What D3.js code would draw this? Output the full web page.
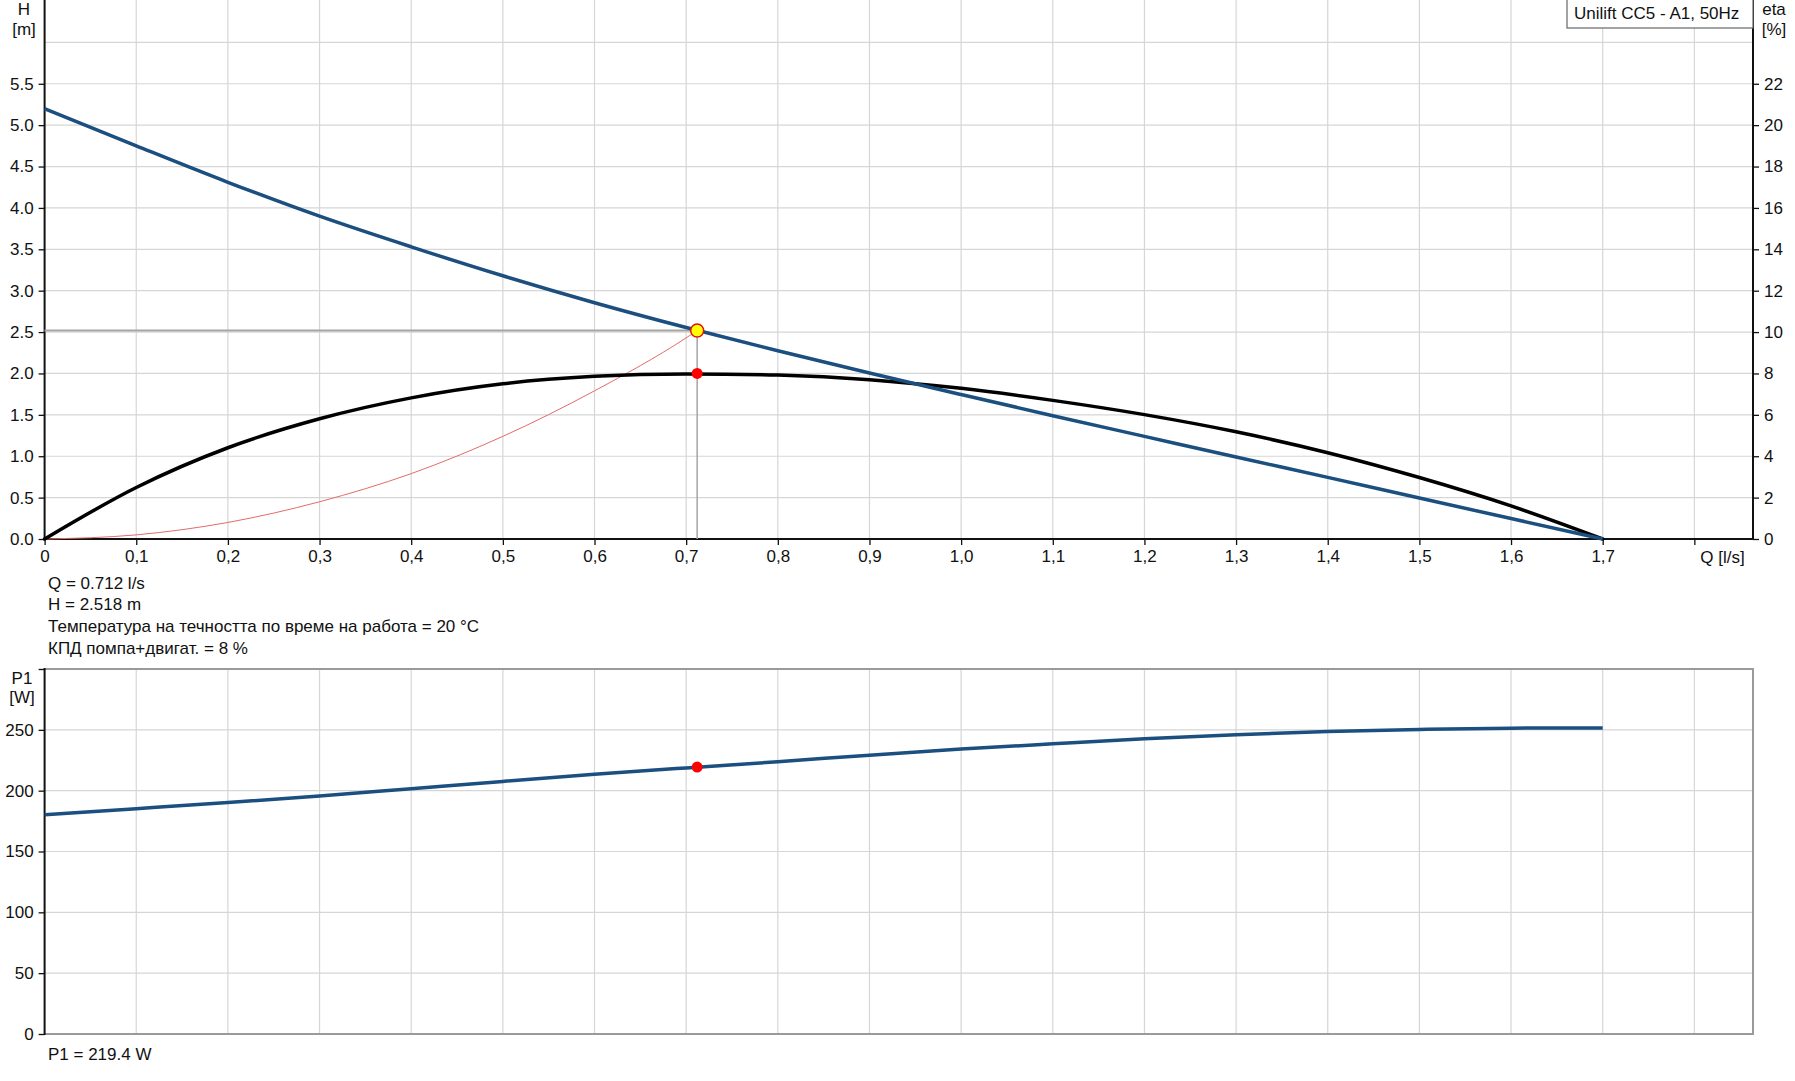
<!DOCTYPE html>
<html>
<head>
<meta charset="utf-8">
<script src="https://cdn.jsdelivr.net/npm/d3@7"></script>
<style>
  html, body { margin: 0; padding: 0; background: #fff; }
  svg { display: block; font-family: "Liberation Sans", Arial, sans-serif; }
  text { fill: #111; font-size: 17px; }
</style>
</head>
<body>
<svg id="chart" width="1795" height="1081"></svg>
<script>
// ---- Data ----
const qGrid = [0, 0.1, 0.2, 0.3, 0.4, 0.5, 0.6, 0.7, 0.8, 0.9, 1.0, 1.1, 1.2, 1.3, 1.4, 1.5, 1.6, 1.7];
const headValues = [5.2, 4.75, 4.31, 3.90, 3.53, 3.18, 2.855, 2.555, 2.275, 2.005, 1.745, 1.49, 1.24, 0.99, 0.745, 0.495, 0.247, 0];
const etaValues = [0, 2.49, 4.41, 5.81, 6.82, 7.50, 7.86, 7.98, 7.92, 7.70, 7.28, 6.70, 6.01, 5.18, 4.17, 2.97, 1.60, 0];
const p1Values = [180.3, 185.2, 190.2, 195.6, 201.6, 207.6, 213.4, 218.7, 223.8, 229.2, 234.2, 238.5, 242.6, 245.9, 248.6, 250.3, 251.4, 251.6];
const systemQ = [0, 0.1, 0.2, 0.3, 0.4, 0.5, 0.6, 0.7, 0.712];
const systemH = [0, 0.05, 0.2, 0.45, 0.79, 1.24, 1.79, 2.43, 2.518];
const duty = { q: 0.712, h: 2.518, eta: 8, p1: 219.4 };
const xTicks = [0, 0.1, 0.2, 0.3, 0.4, 0.5, 0.6, 0.7, 0.8, 0.9, 1.0, 1.1, 1.2, 1.3, 1.4, 1.5, 1.6, 1.7, 1.8];
const hTicks = [0, 0.5, 1, 1.5, 2, 2.5, 3, 3.5, 4, 4.5, 5, 5.5];
const hGrid = [0.5, 1, 1.5, 2, 2.5, 3, 3.5, 4, 4.5, 5, 5.5, 6];
const etaTicks = [0, 2, 4, 6, 8, 10, 12, 14, 16, 18, 20, 22];
const p1Ticks = [0, 50, 100, 150, 200, 250, 300];
const p1Grid = [50, 100, 150, 200, 250];
const infoLines = ["Q = 0.712 l/s", "H = 2.518 m", "Температура на течността по време на работа = 20 °C", "КПД помпа+двигат. = 8 %"];
const p1Info = "P1 = 219.4 W";
const legendText = "Unilift CC5 - A1, 50Hz";

// ---- Layout ----
const svg = d3.select("#chart");
const L = 44.6, R = 1753;
const top1 = 1, bot1 = 539;
const top2 = 669, bot2 = 1034;

const x = d3.scaleLinear().domain([0, 1.864]).range([L, R]);
const yH = d3.scaleLinear().domain([0, 6.5]).range([bot1, top1]);
const yEta = d3.scaleLinear().domain([0, 26]).range([bot1, top1]);
const yP = d3.scaleLinear().domain([0, 300]).range([bot2, top2]);

const gridColor = "#d6d6d6";
const blue = "#1b4f7f";

// ---- Top chart grid ----
const g1 = svg.append("g");
g1.selectAll("line.vg").data(xTicks.filter(d => d > 0)).join("line")
  .attr("x1", d => x(d)).attr("x2", d => x(d)).attr("y1", top1 - 1).attr("y2", bot1)
  .attr("stroke", gridColor).attr("stroke-width", 1.2);
g1.selectAll("line.hg").data(hGrid).join("line")
  .attr("x1", L).attr("x2", R).attr("y1", d => yH(d)).attr("y2", d => yH(d))
  .attr("stroke", gridColor).attr("stroke-width", 1.2);

// ---- Lower chart grid ----
const g2 = svg.append("g");
g2.selectAll("line.vg").data(xTicks.filter(d => d > 0)).join("line")
  .attr("x1", d => x(d)).attr("x2", d => x(d)).attr("y1", top2).attr("y2", bot2)
  .attr("stroke", gridColor).attr("stroke-width", 1.2);
g2.selectAll("line.hg").data(p1Grid).join("line")
  .attr("x1", L).attr("x2", R).attr("y1", d => yP(d)).attr("y2", d => yP(d))
  .attr("stroke", gridColor).attr("stroke-width", 1.2);
g2.append("path")
  .attr("d", `M${L},${top2}H${R}V${bot2}H${L}`)
  .attr("fill", "none").attr("stroke", "#9a9a9a").attr("stroke-width", 2);

// ---- Axes ----
function styleAxis(g) {
  g.select(".domain").remove();
  g.selectAll(".tick line").attr("stroke", "#111").attr("stroke-width", 1.3);
  g.selectAll(".tick text").style("font-size", "17px").attr("fill", "#111");
}
const fmtX = d => d === 0 ? "0" : (d >= 1.75 ? "" : d.toFixed(1).replace(".", ","));
svg.append("g").attr("transform", `translate(0,${bot1})`)
  .call(d3.axisBottom(x).tickValues(xTicks).tickFormat(fmtX).tickSize(6).tickPadding(5))
  .call(styleAxis);
svg.append("g").attr("transform", `translate(${L},0)`)
  .call(d3.axisLeft(yH).tickValues(hTicks).tickFormat(d3.format(".1f")).tickSize(6).tickPadding(5))
  .call(styleAxis);
svg.append("g").attr("transform", `translate(${R},0)`)
  .call(d3.axisRight(yEta).tickValues(etaTicks).tickFormat(d3.format("d")).tickSize(6).tickPadding(5))
  .call(styleAxis);
svg.append("g").attr("transform", `translate(${L},0)`)
  .call(d3.axisLeft(yP).tickValues(p1Ticks).tickFormat(d => d === 300 ? "" : d).tickSize(6).tickPadding(5))
  .call(styleAxis);

// axis lines
svg.append("line").attr("x1", L).attr("x2", L).attr("y1", 0).attr("y2", bot1 + 1)
  .attr("stroke", "#111").attr("stroke-width", 2);
svg.append("line").attr("x1", R).attr("x2", R).attr("y1", 0).attr("y2", bot1 + 1)
  .attr("stroke", "#111").attr("stroke-width", 2);
svg.append("line").attr("x1", L).attr("x2", R).attr("y1", bot1).attr("y2", bot1)
  .attr("stroke", "#111").attr("stroke-width", 2);
svg.append("line").attr("x1", L).attr("x2", L).attr("y1", top2 - 1).attr("y2", bot2 + 1)
  .attr("stroke", "#111").attr("stroke-width", 2);

// axis titles
svg.append("text").attr("x", 24).attr("y", 9).attr("dy", "0.35em").attr("text-anchor", "middle").text("H");
svg.append("text").attr("x", 24).attr("y", 29).attr("dy", "0.35em").attr("text-anchor", "middle").text("[m]");
svg.append("text").attr("x", 1774).attr("y", 9).attr("dy", "0.35em").attr("text-anchor", "middle").text("eta");
svg.append("text").attr("x", 1774).attr("y", 29).attr("dy", "0.35em").attr("text-anchor", "middle").text("[%]");
svg.append("text").attr("x", x(1.8) + 6).attr("y", 557).attr("dy", "0.35em").attr("text-anchor", "start").text("Q [l/s]");
svg.append("text").attr("x", 22).attr("y", 678).attr("dy", "0.35em").attr("text-anchor", "middle").text("P1");
svg.append("text").attr("x", 22).attr("y", 697).attr("dy", "0.35em").attr("text-anchor", "middle").text("[W]");

// ---- Legend box ----
svg.append("rect").attr("x", 1567).attr("y", -1).attr("width", R - 1567).attr("height", 29)
  .attr("fill", "#fff").attr("stroke", "#666").attr("stroke-width", 1.2);
svg.append("text").attr("x", 1574).attr("y", 13).attr("dy", "0.35em").text(legendText);

// ---- Curves ----
const lineH = d3.line().x((d, i) => x(qGrid[i])).y(d => yH(d)).curve(d3.curveMonotoneX);
const lineEta = d3.line().x((d, i) => x(qGrid[i])).y(d => yEta(d)).curve(d3.curveMonotoneX);
const lineP = d3.line().x((d, i) => x(qGrid[i])).y(d => yP(d)).curve(d3.curveMonotoneX);
const lineSys = d3.line().x((d, i) => x(systemQ[i])).y(d => yH(d)).curve(d3.curveMonotoneX);

svg.append("line").attr("x1", L).attr("x2", x(duty.q)).attr("y1", yH(duty.h)).attr("y2", yH(duty.h))
  .attr("stroke", "#a5a5a5").attr("stroke-width", 2);
svg.append("line").attr("x1", x(duty.q)).attr("x2", x(duty.q)).attr("y1", yH(duty.h)).attr("y2", bot1)
  .attr("stroke", "#a5a5a5").attr("stroke-width", 1.5);

svg.append("path").attr("d", lineSys(systemH)).attr("fill", "none")
  .attr("stroke", "#e36b6b").attr("stroke-width", 1);
svg.append("path").attr("d", lineEta(etaValues)).attr("fill", "none")
  .attr("stroke", "#000").attr("stroke-width", 3.5).attr("stroke-linecap", "round");
svg.append("path").attr("d", lineH(headValues)).attr("fill", "none")
  .attr("stroke", blue).attr("stroke-width", 3.5);
svg.append("path").attr("d", lineP(p1Values)).attr("fill", "none")
  .attr("stroke", blue).attr("stroke-width", 3.5);

svg.append("circle").attr("cx", x(duty.q)).attr("cy", yEta(duty.eta)).attr("r", 5.5).attr("fill", "#ff0000");
svg.append("circle").attr("cx", x(duty.q)).attr("cy", yH(duty.h)).attr("r", 6.5)
  .attr("fill", "#ffff00").attr("stroke", "#e01010").attr("stroke-width", 1.5);
svg.append("circle").attr("cx", x(duty.q)).attr("cy", yP(duty.p1)).attr("r", 5.5).attr("fill", "#ff0000");

// ---- Info text ----
const infoY = [583, 604.5, 626, 648];
svg.selectAll("text.info").data(infoLines).join("text")
  .attr("class", "info").attr("x", 48).attr("y", (d, i) => infoY[i]).attr("dy", "0.35em").text(d => d);
svg.append("text").attr("x", 48).attr("y", 1054).attr("dy", "0.35em").text(p1Info);
</script>
</body>
</html>
